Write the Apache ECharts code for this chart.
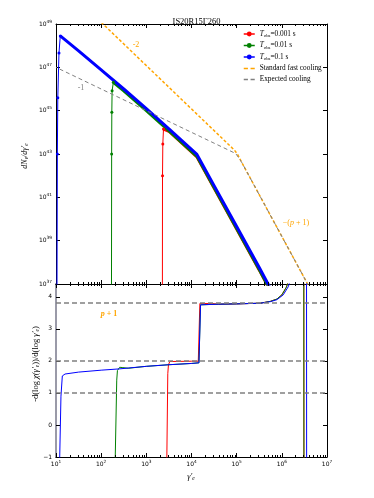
<!DOCTYPE html>
<html>
<head>
<meta charset="utf-8">
<script src="https://cdn.jsdelivr.net/npm/echarts@6/dist/echarts.min.js"></script>
<style>
  html, body { margin: 0; padding: 0; background: #fff; }
  #chart { width: 374px; height: 498px; }
</style>
</head>
<body>
<div id="chart"></div>
<script>
// all values are log10
// top panel: [log gamma, log dN/dgamma]
var redTop = [[3.355, 35.5], [3.358, 42.0], [3.365, 43.46], [3.38, 44.15], [3.5, 44.05], [4.12, 42.87], [4.5, 41.43], [5.0, 39.54], [5.5, 37.65], [5.9, 36.08]];
var greenTop = [[2.228, 35.5], [2.232, 43.0], [2.236, 44.93], [2.242, 45.92], [2.27, 46.31], [2.5, 45.91], [3.0, 45.0], [3.5, 44.07], [4.12, 42.89], [4.5, 41.45], [5.0, 39.56], [5.5, 37.67], [5.9, 36.1]];
var blueTop = [[1.02, 35.5], [1.03, 43.0], [1.04, 45.6], [1.066, 47.66], [1.095, 48.45], [1.5, 47.76], [2.0, 46.88], [2.5, 46.0], [3.0, 45.09], [3.5, 44.16], [4.12, 42.98], [4.5, 41.54], [5.0, 39.65], [5.5, 37.76], [5.9, 36.2]];
var riseLen = { red: 4, green: 5, blue: 5 };
var fastCooling = [[2.0, 49.08], [4.95, 43.18], [5.02, 42.98], [5.1, 42.66], [6.55, 37.08], [6.7, 36.5]];
var expectedCooling = [[1.0, 47.0], [4.98, 43.02], [5.1, 42.66], [6.55, 37.08], [6.7, 36.5]];

// bottom panel: [log gamma, -dlog chi / dlog gamma]
var redDer = [[3.45, -1.5], [3.475, 1.6], [3.49, 1.88], [3.52, 1.98], [4.0, 1.99], [4.15, 1.99], [4.185, 3.79], [4.45, 3.79], [4.6, 3.77], [5.0, 3.78], [5.52, 3.8], [5.75, 3.86], [5.89, 3.93], [6.0, 4.06], [6.1, 4.3], [6.16, 4.55], [6.3, 5.5], [6.485, 9], [6.49, -3]];
var greenDer = [[2.305, -1.5], [2.345, 1.4], [2.36, 1.7], [2.41, 1.8], [2.48, 1.79], [2.6, 1.77], [3.0, 1.83], [3.5, 1.88], [4.0, 1.92], [4.165, 1.94], [4.2, 3.75], [4.6, 3.77], [5.0, 3.78], [5.52, 3.8], [5.75, 3.86], [5.89, 3.93], [6.0, 4.06], [6.1, 4.3], [6.16, 4.55], [6.3, 5.5], [6.485, 9], [6.49, -3]];
var blueDer = [[1.075, -1.5], [1.11, 0.9], [1.14, 1.53], [1.2, 1.59], [1.5, 1.65], [2.0, 1.71], [2.4, 1.75], [3.0, 1.83], [3.5, 1.88], [4.0, 1.92], [4.165, 1.94], [4.2, 3.75], [4.6, 3.77], [5.0, 3.78], [5.52, 3.8], [5.75, 3.85], [5.89, 3.91], [6.03, 4.06], [6.14, 4.31], [6.2, 4.55], [6.3, 5.3], [6.545, 9], [6.55, -3]];
var refLevels = [1, 2, 3.8];

var seriesNames = ['T_obs=0.001 s', 'T_obs=0.01 s', 'T_obs=0.1 s', 'Standard fast cooling', 'Expected cooling'];
var legendText = {
    'T_obs=0.001 s': '{t|T}{s|obs}{n|=0.001 s}',
    'T_obs=0.01 s': '{t|T}{s|obs}{n|=0.01 s}',
    'T_obs=0.1 s': '{t|T}{s|obs}{n|=0.1 s}',
    'Standard fast cooling': 'Standard fast cooling',
    'Expected cooling': 'Expected cooling'
};

var minorX = [];
for (var n = 1; n < 7; n++) {
    for (var k = 2; k < 10; k++) minorX.push(n + Math.log10(k));
}

var RED = '#ff0000', GREEN = '#008000', BLUE = '#0000ff', ORANGE = '#ffa500', GRAY = '#808080';
var serif = 'Liberation Serif';
var sans = 'DejaVu Sans';
var dashIcon = 'path://M0,0H4V1.4H0Z M6.5,0H10.5V1.4H6.5Z';

var chart = echarts.init(document.getElementById('chart'), null, { renderer: 'canvas' });

function powLabel(v) {
    return '{b|10}{e|' + v + '}';
}
var powRich = {
    b: { fontSize: 6, fontFamily: sans, color: '#000' },
    e: { fontSize: 4.3, fontFamily: sans, color: '#000', padding: [0, 0, 5, 0] }
};

function xAx(grid, pos, labels) {
    return {
        type: 'value', gridIndex: grid, position: pos, min: 1, max: 7, interval: 1,
        axisLine: { show: true, onZero: false, lineStyle: { color: '#000', width: 1 } },
        axisTick: { show: true, inside: true, length: 4, lineStyle: { color: '#000' } },
        axisLabel: labels ? { show: true, margin: 3, formatter: powLabel, rich: powRich } : { show: false },
        splitLine: { show: false }
    };
}
function yAx(grid, pos, min, max, interval, label, lineColor, lineWidth) {
    return {
        type: 'value', gridIndex: grid, position: pos, min: min, max: max, interval: interval,
        axisLine: { show: true, onZero: false, lineStyle: { color: lineColor || '#000', width: lineWidth || 1 } },
        axisTick: { show: true, inside: true, length: 4, lineStyle: { color: '#000' } },
        axisLabel: label ? Object.assign({ show: true, margin: 4 }, label) : { show: false },
        splitLine: { show: false }
    };
}

function lineSeries(name, data, color, width, xi, yi, extra) {
    return Object.assign({
        type: 'line', name: name, data: data, xAxisIndex: xi, yAxisIndex: yi,
        symbol: 'none', clip: true, animation: false,
        lineStyle: { color: color, width: width },
        itemStyle: { color: color }
    }, extra || {});
}

function topCurve(name, data, rise, color) {
    return [
        lineSeries(name + ' rise', data.slice(0, rise), color, 1, 0, 0, {
            symbol: 'circle', symbolSize: 3, showSymbol: true
        }),
        lineSeries(name, data.slice(rise - 1), color, 3, 0, 0, {
            symbol: 'circle', symbolSize: 3, showSymbol: false
        })
    ];
}

function minorTicks(xi, yi, lo, hi) {
    return {
        type: 'custom', xAxisIndex: xi, yAxisIndex: yi, silent: true, z: 5,
        data: minorX.map(function (v) { return [v, lo]; }),
        renderItem: function (params, api) {
            var b = api.coord([api.value(0), lo]);
            var t = api.coord([api.value(0), hi]);
            var x = Math.round(b[0]) + 0.5;
            return {
                type: 'group', children: [
                    { type: 'line', shape: { x1: x, y1: b[1], x2: x, y2: b[1] - 2 }, style: { stroke: '#000', lineWidth: 1 } },
                    { type: 'line', shape: { x1: x, y1: t[1], x2: x, y2: t[1] + 2 }, style: { stroke: '#000', lineWidth: 1 } }
                ]
            };
        }
    };
}

var series = [].concat(
    topCurve(seriesNames[0], redTop, riseLen.red, RED),
    topCurve(seriesNames[1], greenTop, riseLen.green, GREEN),
    topCurve(seriesNames[2], blueTop, riseLen.blue, BLUE),
    [
        lineSeries(seriesNames[3], fastCooling, ORANGE, 1.5, 0, 0, { lineStyle: { color: ORANGE, width: 1.5, type: [3, 2] } }),
        lineSeries(seriesNames[4], expectedCooling, GRAY, 1, 0, 0, { lineStyle: { color: GRAY, width: 1, type: [4, 3], dashOffset: 3 } }),
        {
            type: 'line', data: [], xAxisIndex: 2, yAxisIndex: 2, silent: true,
            markLine: {
                silent: true, symbol: ['none', 'none'], animation: false,
                label: { show: false },
                lineStyle: { color: GRAY, width: 1.5, type: [5, 3] },
                data: refLevels.map(function (v) { return { yAxis: v }; })
            }
        },
        lineSeries('red der', redDer, RED, 1, 2, 2),
        lineSeries('green der', greenDer, GREEN, 1, 2, 2),
        lineSeries('blue der', blueDer, BLUE, 1, 2, 2),
        minorTicks(0, 0, 37, 49),
        minorTicks(2, 2, -1, 4.4)
    ]
);

var option = {
    animation: false,
    backgroundColor: '#fff',
    title: {
        text: 'IS20R15\u0393260', left: 191.5, top: 12, textAlign: 'center',
        textStyle: { fontFamily: serif, fontSize: 8.5, fontWeight: 'normal', color: '#000' }
    },
    grid: [
        { left: 56, right: 47, top: 24, height: 260 },
        { left: 56, right: 47, top: 284, height: 173 }
    ],
    xAxis: [xAx(0, 'bottom', false), xAx(0, 'top', false), xAx(1, 'bottom', true), xAx(1, 'top', false)],
    yAxis: [
        yAx(0, 'left', 37, 49, 2, { formatter: powLabel, rich: powRich }),
        yAx(0, 'right', 37, 49, 2, null),
        yAx(1, 'left', -1, 4.4, 1, {
            fontSize: 6, fontFamily: sans, color: '#000',
            formatter: function (v) {
                if (Math.abs(v - Math.round(v)) > 1e-6) return '';
                return v < 0 ? '\u2212' + Math.abs(v) : String(v);
            }
        }, '#9a9aa8', 2),
        yAx(1, 'right', -1, 4.4, 1, null)
    ],
    legend: {
        orient: 'vertical', left: 238, top: 25, itemWidth: 11, itemHeight: 6, itemGap: 3,
        data: seriesNames.map(function (nm, i) {
            if (i < 3) return { name: nm, lineStyle: { width: 1.5 } };
            return { name: nm, icon: dashIcon };
        }),
        formatter: function (nm) { return legendText[nm]; },
        textStyle: {
            fontFamily: serif, fontSize: 7.3, color: '#000', lineHeight: 8,
            rich: {
                t: { fontFamily: serif, fontStyle: 'italic', fontSize: 7.3 },
                s: { fontFamily: serif, fontSize: 4.8, padding: [4, 0, 0, 0] },
                n: { fontFamily: serif, fontSize: 7.3 }
            }
        }
    },
    graphic: [
        {
            type: 'text', x: 25, y: 156, rotation: Math.PI / 2,
            style: {
                text: '{i|dN}{s|e}{i|/d\u03b3\u2032}{s|e}', align: 'center', verticalAlign: 'middle',
                rich: {
                    i: { fontFamily: serif, fontStyle: 'italic', fontSize: 8, fill: '#000' },
                    s: { fontFamily: serif, fontStyle: 'italic', fontSize: 5.5, padding: [4, 0, 0, 0], fill: '#000' }
                }
            }
        },
        {
            type: 'text', x: 36, y: 364, rotation: Math.PI / 2,
            style: {
                text: '{n|-d(log }{i|\u03c7(\u03b3\u2032}{s|e}{n|))/d(log }{i|\u03b3\u2032}{s|e}{n|)}', align: 'center', verticalAlign: 'middle',
                rich: {
                    n: { fontFamily: serif, fontSize: 8.5, fill: '#000' },
                    i: { fontFamily: serif, fontStyle: 'italic', fontSize: 8.5, fill: '#000' },
                    s: { fontFamily: serif, fontStyle: 'italic', fontSize: 5.5, padding: [4, 0, 0, 0], fill: '#000' }
                }
            }
        },
        {
            type: 'text', x: 191, y: 477,
            style: {
                text: '{i|\u03b3\u2032}{s|e}', align: 'center', verticalAlign: 'middle',
                rich: {
                    i: { fontFamily: serif, fontStyle: 'italic', fontSize: 8, fill: '#000' },
                    s: { fontFamily: serif, fontStyle: 'italic', fontSize: 5.5, padding: [4, 0, 0, 0], fill: '#000' }
                }
            }
        },
        { type: 'text', x: 136, y: 45, style: { text: '-2', fill: ORANGE, font: '8px "Liberation Serif"', align: 'center', verticalAlign: 'middle' } },
        { type: 'text', x: 81, y: 88, style: { text: '-1', fill: GRAY, font: '8px "Liberation Serif"', align: 'center', verticalAlign: 'middle' } },
        {
            type: 'text', x: 296, y: 223,
            style: {
                text: '{n|\u2212(}{i|p}{n| + 1)}', align: 'center', verticalAlign: 'middle',
                rich: {
                    n: { fontFamily: serif, fontSize: 8, fill: ORANGE },
                    i: { fontFamily: serif, fontStyle: 'italic', fontSize: 8, fill: ORANGE }
                }
            }
        },
        {
            type: 'text', x: 109, y: 314,
            style: {
                text: '{i|p}{n| + 1}', align: 'center', verticalAlign: 'middle',
                rich: {
                    n: { fontFamily: serif, fontSize: 8, fontWeight: 'bold', fill: ORANGE },
                    i: { fontFamily: serif, fontStyle: 'italic', fontWeight: 'bold', fontSize: 8, fill: ORANGE }
                }
            }
        }
    ],
    series: series
};

chart.setOption(option);
</script>
</body>
</html>
